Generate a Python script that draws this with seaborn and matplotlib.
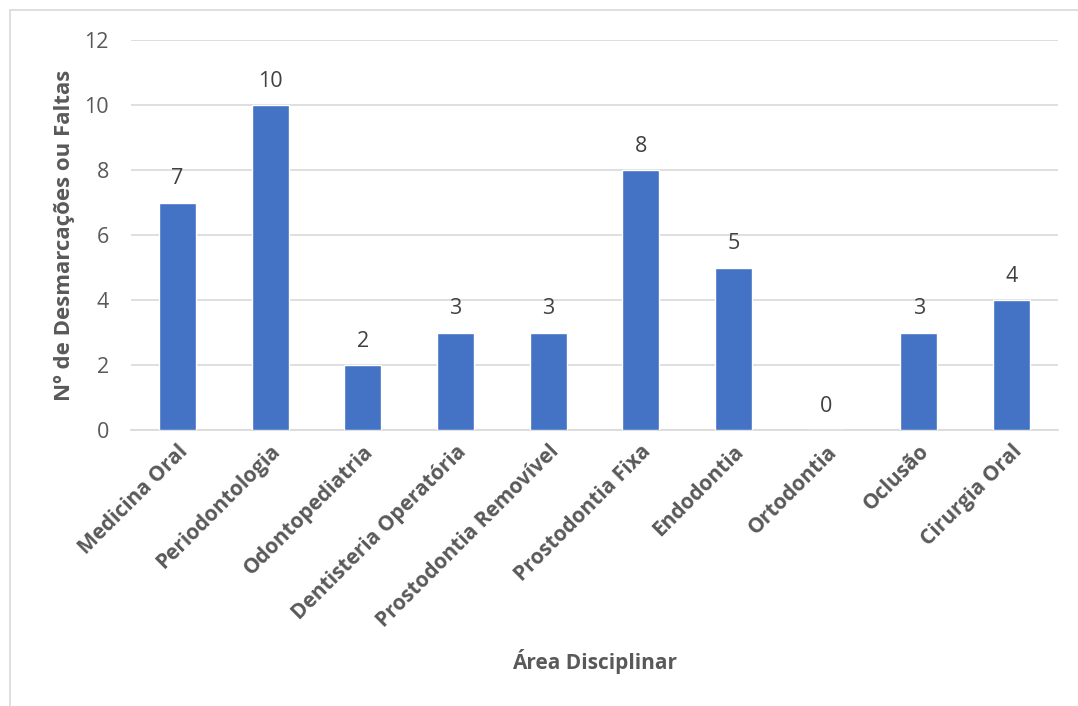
import matplotlib
matplotlib.use("Agg")
import matplotlib.pyplot as plt
import seaborn as sns
import pandas as pd
from matplotlib.patches import Rectangle

categorias = ["Medicina Oral", "Periodontologia", "Odontopediatria",
              "Dentisteria Operatória", "Prostodontia Removível",
              "Prostodontia Fixa", "Endodontia", "Ortodontia", "Oclusão",
              "Cirurgia Oral"]
faltas = [7, 10, 2, 3, 3, 8, 5, 0, 3, 4]
y_ticks = [0, 2, 4, 6, 8, 10, 12]

sns.set_theme(style="white")
plt.rcParams["font.family"] = ["Open Sans", "DejaVu Sans"]

cinza = "#595959"
azul = "#4472C4"

df = pd.DataFrame({"Área": categorias, "Faltas": faltas})

fig = plt.figure(figsize=(10.78, 7.06), dpi=100)
ax = fig.add_axes([131 / 1078, 1 - 430 / 706, 927 / 1078, 390 / 706])

sns.barplot(data=df, x="Área", y="Faltas", color=azul, width=0.4,
            saturation=1, ax=ax, zorder=3)

ax.set_ylim(0, 12)
ax.set_yticks(y_ticks)
ax.yaxis.grid(True, color="#D9D9D9", linewidth=1.2, zorder=0)
ax.set_axisbelow(True)
for s in ["top", "right", "left"]:
    ax.spines[s].set_visible(False)
ax.spines["bottom"].set_color("#D9D9D9")
ax.spines["bottom"].set_linewidth(1.2)
ax.tick_params(axis="both", length=0, colors=cinza)
ax.tick_params(axis="y", labelsize=15.5, pad=16)
ax.tick_params(axis="x", pad=8)
ax.set_xticks(range(len(categorias)))
ax.set_xticklabels(categorias, rotation=45, ha="right",
                   rotation_mode="anchor", fontsize=15,
                   fontweight="bold", color=cinza)
for lab in ax.get_yticklabels():
    lab.set_color(cinza)

for i, v in enumerate(faltas):
    ax.annotate(str(v), (i, v), xytext=(0, 9.5), textcoords="offset points",
                ha="center", va="bottom", fontsize=15.5, color="#404040")

ax.set_xlabel("Área Disciplinar", fontsize=15, fontweight="bold",
              color=cinza, va="center")
ax.xaxis.set_label_coords(0.5, (430 - 661) / 390)
ax.set_ylabel("Nº de Desmarcações ou Faltas", fontsize=16,
              fontweight="bold", color=cinza, va="center")
ax.yaxis.set_label_coords((65 - 131) / 927, 0.5)

# chart area outline
fig.patches.append(Rectangle((10 / 1078, -0.01), 1.02, 1 - 10 / 706 + 0.01,
                             transform=fig.transFigure, fill=False,
                             edgecolor="#D9D9D9", linewidth=1.2))

fig.savefig("out.png", dpi=100, facecolor="white")
